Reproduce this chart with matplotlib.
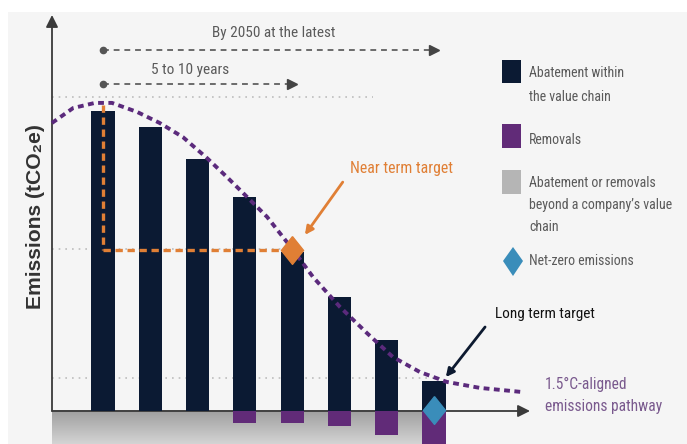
import matplotlib
matplotlib.use("Agg")
import matplotlib.pyplot as plt
import matplotlib.font_manager as fm
import numpy as np
from matplotlib.patches import Rectangle, Polygon

# ---------------- data ----------------
periods = [0, 1, 2, 3, 4, 5, 6, 7]
abatement = [100, 94.7, 84, 71.3, 53, 38, 23.7, 10]
removals = [0, 0, 0, -4, -4, -5, -8, -11]
pathway_x = [-1.08, -0.63, -0.17, 0.19, 0.72, 1.2, 1.69, 2.2, 2.62, 3.05, 3.47,
             3.74, 4.02, 4.44, 5.01, 5.58, 6.13, 6.7, 7.27, 7.97, 8.88]
pathway_y = [96, 101, 102.7, 102.7, 99.7, 96, 91.3, 84.3, 78, 71.3, 64.7,
             59.3, 53.7, 44.7, 34.7, 26, 18, 13, 9.7, 7.7, 6.3]
near_term = (4, 53.5)
net_zero = (7, 0.3)
ref_levels = [104.7, 54, 11]
ref_ends = [5.71, 3.95, 7.13]
by2050_span = (0, 7)
short_span = (0, 4)

NAVY = "#0b1a33"
PURPLE = "#612b78"
ORANGE = "#e07f35"
BLUE = "#3a8dba"
GRAYTXT = "#5a5a5a"

# choose a condensed font if one is installed
_installed = {(f.name, f.stretch) for f in fm.fontManager.ttflist}
_names = {n for n, s in _installed}
FONT = ["Roboto", "DejaVu Sans"]
STRETCH = "normal"
for cand in ["Roboto Condensed", "Liberation Sans Narrow", "Open Sans Condensed",
             "Noto Sans Condensed"]:
    if cand in _names:
        FONT = [cand, "DejaVu Sans"]
        break

W, H = 687, 444
fig = plt.figure(figsize=(W / 100, H / 100), dpi=100)
fig.patch.set_facecolor("white")
fig.add_artist(Rectangle((8 / W, 0), 1, (H - 12) / H, transform=fig.transFigure,
                         facecolor="#f5f5f5", edgecolor="none", zorder=0))

def fx(p):
    return p / W

def fy(p):
    return 1 - p / H

ax = fig.add_axes([52 / W, 0, (530 - 52) / W, (H - 15) / H])
ax.set_xlim(-1.078, 9.03)
ax.set_ylim(-11, 132)
ax.axis("off")
ax.patch.set_alpha(0)

# gray area below axis (beyond value chain): darker at top, lighter at bottom
top_c = np.array([0.62, 0.62, 0.62])
bot_c = np.array([0.83, 0.83, 0.83])
t = np.linspace(0, 1, 60).reshape(-1, 1, 1)
grad = top_c * (1 - t) + bot_c * t
ax.imshow(grad, extent=[-1.078, 7.25, -11, 0], aspect="auto", origin="upper", zorder=1)

# reference dotted lines
for lvl, end in zip(ref_levels, ref_ends):
    ax.plot([-1.078, end], [lvl, lvl], linestyle=(0, (1, 3)), color="#bdbdbd", lw=1.2, zorder=1)

# bars
bw = 0.49
ax.bar(periods, abatement, width=bw, color=NAVY, zorder=3)
ax.bar(periods, removals, width=bw, color=PURPLE, zorder=3)

# near-term dashed orange guides
ax.plot([0, 0], [102, near_term[1]], color=ORANGE, lw=2.4, linestyle=(0, (2.2, 1.4)), zorder=4)
ax.plot([0, near_term[0]], [near_term[1], near_term[1]], color=ORANGE, lw=2.4,
        linestyle=(0, (2.2, 1.4)), zorder=4)

# pathway
ax.plot(pathway_x, pathway_y, color="#5b2a7c", lw=2.8, linestyle=(0, (1.5, 1.15)),
        zorder=5, clip_on=False)

diam = [(0, 1), (0.8, 0), (0, -1), (-0.8, 0), (0, 1)]
ax.plot([near_term[0]], [near_term[1]], marker=diam, ms=20, color=ORANGE, zorder=6, ls="none")
ax.plot([net_zero[0]], [net_zero[1]], marker=diam, ms=20, color=BLUE, zorder=6, ls="none")

# time span arrows
for span, yv in [(by2050_span, 120.3), (short_span, 109)]:
    ax.plot(span, [yv, yv], color="#6b6b6b", lw=1.4, linestyle=(0, (3, 2.5)), zorder=4)
    ax.plot([span[0]], [yv], marker="o", ms=4.5, color="#555555", zorder=4)
    ax.plot([span[1]], [yv], marker=">", ms=7, color="#444444", zorder=4)

tk = dict(family=FONT, fontstretch=STRETCH)
fitted = []  # (text artist, target width in px)
t1 = ax.text(3.6, 126, "By 2050 at the latest", ha="center", va="center", fontsize=12,
             color=GRAYTXT, **tk)
t2 = ax.text(1.84, 113.7, "5 to 10 years", ha="center", va="center", fontsize=12,
             color=GRAYTXT, **tk)
fitted += [(t1, 123), (t2, 78)]

# axes arrows
y0 = 11 / 143
ax.annotate("", xy=(0, 1), xytext=(0, y0), xycoords="axes fraction",
            arrowprops=dict(arrowstyle="-|>", color="#3a3a3a", lw=1.3, mutation_scale=18,
                            shrinkA=0, shrinkB=0), zorder=2)
ax.annotate("", xy=(1, y0), xytext=(0, y0), xycoords="axes fraction",
            arrowprops=dict(arrowstyle="-|>", color="#3a3a3a", lw=1.3, mutation_scale=18,
                            shrinkA=0, shrinkB=0), zorder=2)

# annotations
ax.annotate("", xy=(4.27, 58.7), xytext=(5.07, 76.3),
            arrowprops=dict(arrowstyle="-|>", color=ORANGE, lw=2, mutation_scale=12,
                            shrinkA=0, shrinkB=0), zorder=6)
t3 = ax.text(5.22, 81, "Near term target", ha="left", va="center", fontsize=12,
             color=ORANGE, **tk)
ax.annotate("", xy=(7.25, 11.3), xytext=(8.08, 28),
            arrowprops=dict(arrowstyle="-|>", color="#0d1a30", lw=2, mutation_scale=12,
                            shrinkA=0, shrinkB=0), zorder=6)
t4 = ax.text(8.29, 32.3, "Long term target", ha="left", va="center", fontsize=12,
             color="#111111", **tk)
fitted += [(t3, 103), (t4, 100)]

# y label
ylab = fig.text(fx(36), fy(217), "Emissions (tCO\u2082e)", rotation=90, ha="center",
                va="center", fontsize=13, fontweight="bold", color="#333333",
                family=["Liberation Sans", "DejaVu Sans"])

# pathway label
p1 = fig.text(fx(545), fy(384), "1.5°C-aligned", ha="left", va="center", fontsize=12,
              color="#7a5a8e", **tk)
p2 = fig.text(fx(545), fy(406), "emissions pathway", ha="left", va="center", fontsize=12,
              color="#7a5a8e", **tk)

# legend (manual)
leg_boxes = [(60, 83, NAVY), (124, 148, PURPLE), (170, 194, "#b5b5b5")]
for top, bot, col in leg_boxes:
    fig.add_artist(Rectangle((fx(502), fy(bot)), 19 / W, (bot - top) / H,
                             transform=fig.transFigure, facecolor=col, edgecolor="none"))
fig.add_artist(Polygon([(fx(513), fy(247)), (fx(523), fy(261)), (fx(513), fy(276)),
                        (fx(503), fy(261))], closed=True, transform=fig.transFigure,
                       facecolor=BLUE, edgecolor="none"))
leg_texts = [(73, "Abatement within", 97), (97, "the value chain", 83),
             (140, "Removals", 52), (183, "Abatement or removals", 127),
             (205, "beyond a company\u2019s value", 145), (227, "chain", 30),
             (261, "Net-zero emissions", 106)]
leg_artists = []
for yy, tx, wt in leg_texts:
    a = fig.text(fx(529), fy(yy), tx, ha="left", va="center", fontsize=12,
                 color=GRAYTXT, **tk)
    leg_artists.append((a, wt))

# size texts so that their widths match the reference layout
fig.canvas.draw()
r = fig.canvas.get_renderer()

def fit_size(a, target, horizontal=True):
    bb = a.get_window_extent(r)
    cur = bb.width if horizontal else bb.height
    return a.get_fontsize() * target / cur

for a, wt in fitted:
    a.set_fontsize(fit_size(a, wt))
ylab.set_fontsize(fit_size(ylab, 185, horizontal=False))
path_size = np.mean([fit_size(p1, 82), fit_size(p2, 117)])
p1.set_fontsize(path_size)
p2.set_fontsize(path_size)
leg_size = np.mean([fit_size(a, wt) for a, wt in leg_artists])
for a, wt in leg_artists:
    a.set_fontsize(leg_size)

fig.savefig("out.png", dpi=100, facecolor=fig.get_facecolor())
